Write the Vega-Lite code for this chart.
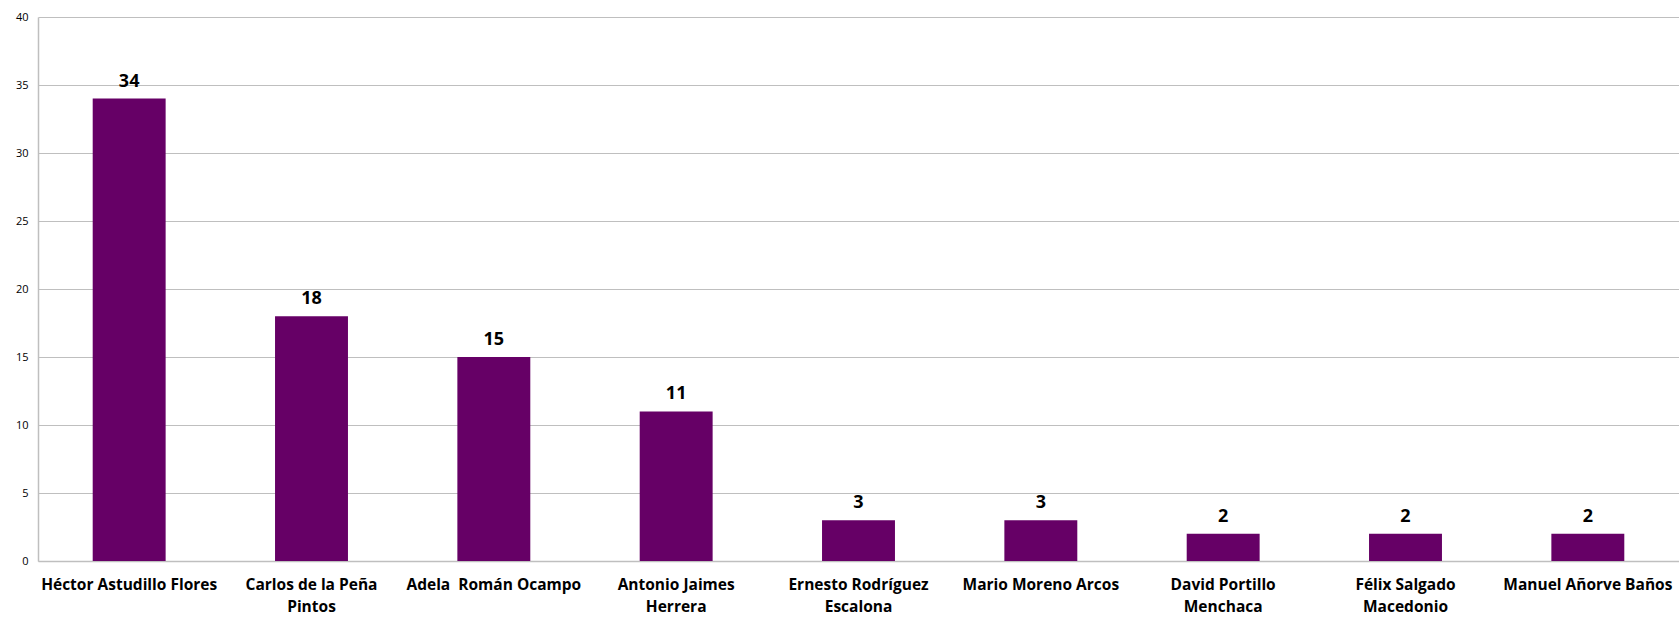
{
  "$schema": "https://vega.github.io/schema/vega-lite/v6.json",
  "autosize": {"type": "none"},
  "padding": {"left": 38, "top": 17, "right": 0, "bottom": 56},
  "width": 1641,
  "height": 544,
  "background": "white",
  "config": {"view": {"stroke": null}},
  "data": {
    "values": [
      {"nombre": "Héctor Astudillo Flores", "votos": 34},
      {"nombre": "Carlos de la Peña Pintos", "votos": 18},
      {"nombre": "Adela\u00a0 Román Ocampo", "votos": 15},
      {"nombre": "Antonio Jaimes Herrera", "votos": 11},
      {"nombre": "Ernesto Rodríguez Escalona", "votos": 3},
      {"nombre": "Mario Moreno Arcos", "votos": 3},
      {"nombre": "David Portillo Menchaca", "votos": 2},
      {"nombre": "Félix Salgado Macedonio", "votos": 2},
      {"nombre": "Manuel Añorve Baños", "votos": 2}
    ]
  },
  "encoding": {
    "x": {
      "field": "nombre",
      "type": "nominal",
      "sort": null,
      "scale": {"paddingInner": 0.6, "paddingOuter": 0.3},
      "axis": {
        "title": null,
        "labelAngle": 0,
        "ticks": false,
        "domainColor": "#bfbfbf",
        "domainWidth": 1.5,
        "labelFont": "Open Sans",
        "labelFontWeight": "bold",
        "labelFontSize": 15.5,
        "labelColor": "#000000",
        "labelPadding": 16,
        "labelLimit": 400,
        "labelLineHeight": 22,
        "labelBaseline": "top",
        "labelExpr": "datum.label == 'Carlos de la Peña Pintos' ? ['Carlos de la Peña', 'Pintos'] : datum.label == 'Antonio Jaimes Herrera' ? ['Antonio Jaimes', 'Herrera'] : datum.label == 'Ernesto Rodríguez Escalona' ? ['Ernesto Rodríguez', 'Escalona'] : datum.label == 'David Portillo Menchaca' ? ['David Portillo', 'Menchaca'] : datum.label == 'Félix Salgado Macedonio' ? ['Félix Salgado', 'Macedonio'] : datum.label"
      }
    },
    "y": {
      "field": "votos",
      "type": "quantitative",
      "scale": {"domain": [0, 40]},
      "axis": {
        "title": null,
        "values": [0, 5, 10, 15, 20, 25, 30, 35, 40],
        "ticks": false,
        "domainColor": "#bfbfbf",
        "domainWidth": 1.5,
        "gridColor": "#bfbfbf",
        "gridWidth": 1,
        "labelFont": "Open Sans",
        "labelFontSize": 11,
        "labelColor": "#000000",
        "labelPadding": 10
      }
    }
  },
  "layer": [
    {"mark": {"type": "bar", "color": "#660066"}},
    {
      "mark": {
        "type": "text",
        "baseline": "bottom",
        "dy": -8,
        "font": "Open Sans",
        "fontWeight": "bold",
        "fontSize": 18,
        "color": "#000000"
      },
      "encoding": {"text": {"field": "votos", "type": "quantitative"}}
    }
  ]
}
